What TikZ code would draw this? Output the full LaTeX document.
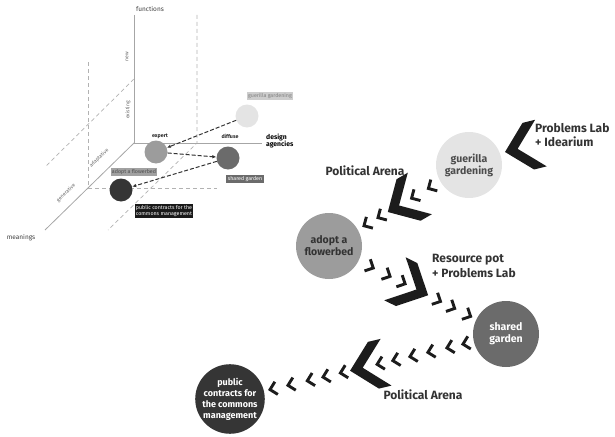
\documentclass[tikz,border=0pt]{standalone}
\usepackage{fontspec}
\setmainfont{Fira Sans}
\usetikzlibrary{arrows.meta}
\definecolor{ggcol}{HTML}{E4E4E4}
\definecolor{afcol}{HTML}{9C9C9C}
\definecolor{sgcol}{HTML}{6B6B6B}
\definecolor{pccol}{HTML}{353535}
\definecolor{chevcol}{HTML}{1C1C1C}
\begin{document}
\begin{tikzpicture}[x=1pt, y=-1pt,
    axis/.style={draw=black!35, line width=0.8pt},
    gridline/.style={draw=black!30, dash pattern=on 4pt off 3pt, line width=0.7pt},
    link/.style={draw=black!80, dash pattern=on 4pt off 2pt, line width=1pt, -{Latex[length=4pt,width=3.5pt]}},
    dot/.style={circle, minimum size=23pt, inner sep=0pt},
    tag/.style={font=\fontsize{5.3}{6}\selectfont, inner sep=1.4pt, align=left},
    axlabel/.style={font=\fontsize{6.5}{7}\selectfont, text=black!75},
    tinylabel/.style={font=\fontsize{5}{5.5}\selectfont, text=black!60},
    place/.style={circle, minimum size=66pt, inner sep=0pt, align=center, font=\bfseries\fontsize{10.5}{12}\selectfont},
    bigtext/.style={font=\bfseries\fontsize{12}{14.5}\selectfont, text=black!80, align=left, inner sep=0pt},
    smallchev/.pic={\draw[chevcol, line width=2.9pt] (-6.5,-6.5) -- (0,0) -- (-6.5,6.5);},
    bigchev/.pic={\fill[chevcol] (0,0) -- (-24,-24) -- (-37,-24) -- (-13,0) -- (-37,24) -- (-24,24) -- cycle;},
    ]
    \useasboundingbox (0,0) rectangle (615,436);

    % small 3d chart
    \coordinate (O) at (134,143);
    \coordinate (fnend) at (134,15);
    \coordinate (daend) at (262,143);
    \coordinate (mnend) at (45,230);
    \draw[gridline] (197,15) -- (197,143) -- (108,230);
    \draw[gridline] (88,62) -- (88,188) -- (217,188);
    \draw[gridline] (134,79) -- (45,167);
    \draw[axis] (fnend) -- (O) -- (daend);
    \draw[axis] (O) -- (mnend);

    \node[axlabel] (fn) at (150,9) {functions};
    \node[axlabel] (mn) at (21,238) {meanings};
    \node[axlabel, font=\bfseries\fontsize{6.8}{7.8}\selectfont, text=black, align=left, anchor=west, inner sep=0pt] (da) at (266,141) {design\\agencies};
    \node[tinylabel, rotate=90] (new) at (127,57) {new};
    \node[tinylabel, rotate=90] (ex) at (128,110) {existing};
    \node[tinylabel, rotate=44, inner sep=0pt] (adp) at (99,158) {adaptative};
    \node[tinylabel, rotate=44, inner sep=0pt] (gen) at (66,193) {generative};
    \node[tinylabel, font=\bfseries\fontsize{5.3}{6}\selectfont, text=black!85] (xp) at (160,136) {expert};
    \node[tinylabel, font=\bfseries\fontsize{5.3}{6}\selectfont, text=black!85] (df) at (230,136) {diffuse};

    \node[dot, fill=ggcol] (ggs) at (247,116) {};
    \node[dot, fill=afcol] (afs) at (156,152) {};
    \node[dot, fill=sgcol] (sgs) at (228,158) {};
    \node[dot, fill=pccol] (pcs) at (121,190) {};
    \node[tag, fill=ggcol!90!black, text=black!50] (ggtag) at (270,96) {guerilla gardening};
    \node[tag, fill=afcol!95!white, text=black!70] (aftag) at (134,172) {adopt a flowerbed};
    \node[tag, fill=sgcol, text=white] (sgtag) at (245,179) {shared garden};
    \node[tag, fill=black!90, text=white] (pctag) at (164,211) {public contracts for the\\commons management};
    \draw[link] (ggs) -- (afs);
    \draw[link] (afs) -- (sgs);
    \draw[link] (sgs) -- (pcs);

    % big path
    \node[place, fill=ggcol, text=black!70] (gg) at (469,165) {guerilla\\gardening};
    \node[place, fill=afcol, text=black!80] (af) at (329,246) {adopt a\\flowerbed};
    \node[place, fill=sgcol, text=white] (sg) at (506,334) {shared\\garden};
    \node[place, fill=pccol, text=white, minimum size=69pt,
          font=\bfseries\fontsize{9}{11}\selectfont] (pc) at (230,399) {public\\contracts for\\the commons\\management};

    \pic[rotate=194] at (505,152) {bigchev};
    \foreach \p in {0.29,0.41,0.65,0.75}
        \path (gg.center) -- (af.center) pic[pos=\p, sloped, allow upside down] {smallchev};
    \path (gg.center) -- (af.center) pic[pos=0.58, sloped, allow upside down] {bigchev};
    \foreach \p in {0.25,0.345,0.43,0.63,0.71,0.80}
        \path (af.center) -- (sg.center) pic[pos=\p, sloped, allow upside down] {smallchev};
    \path (af.center) -- (sg.center) pic[pos=0.56, sloped, allow upside down] {bigchev};
    \foreach \p in {0.156,0.214,0.283,0.348,0.41,0.467,0.60,0.663,0.72,0.79,0.855}
        \path (sg.center) -- (pc.center) pic[pos=\p, sloped, allow upside down] {smallchev};
    \path (sg.center) -- (pc.center) pic[pos=0.565, sloped, allow upside down] {bigchev};

    \node[bigtext, anchor=west] (plab) at (535,135) {Problems Lab\\+ Idearium};
    \node[bigtext] (pa1) at (365,171) {Political Arena};
    \node[bigtext, anchor=west] (rpot) at (432,266) {Resource pot\\+ Problems Lab};
    \node[bigtext] (pa2) at (423,395) {Political Arena};
\end{tikzpicture}
\end{document}
